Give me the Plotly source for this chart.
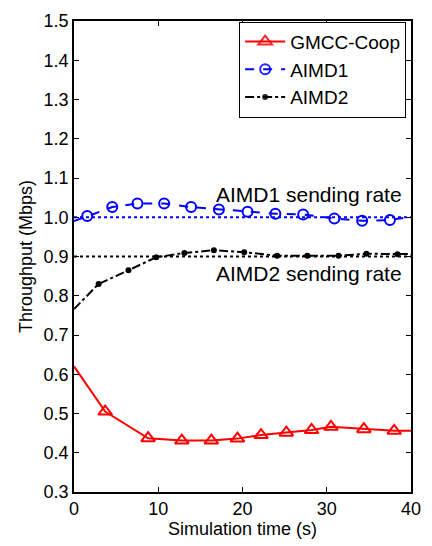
import plotly.graph_objects as go

# GMCC-Coop
gmcc_x = [0, 3.7, 8.8, 12.8, 16.3, 19.4, 22.2, 25.2, 28.2, 30.5, 34.4, 38.0, 40]
gmcc_y = [0.62, 0.505, 0.437, 0.431, 0.431, 0.436, 0.445, 0.451, 0.458, 0.466, 0.460, 0.456, 0.456]

# AIMD1
aimd1_x = [0, 1.57, 4.54, 7.53, 10.7, 13.9, 17.2, 20.6, 23.9, 27.2, 30.9, 34.2, 37.5, 40]
aimd1_y = [0.990, 1.003, 1.026, 1.035, 1.035, 1.026, 1.020, 1.014, 1.009, 1.007, 0.997, 0.991, 0.993, 1.001]

# AIMD2
aimd2_x = [0, 2.92, 6.46, 9.76, 13.1, 16.6, 20.2, 24.1, 27.7, 31.4, 34.7, 38.4, 40]
aimd2_y = [0.766, 0.83, 0.865, 0.898, 0.909, 0.916, 0.911, 0.902, 0.902, 0.902, 0.907, 0.906, 0.906]

# sending rates
rate_x = [0, 40]
aimd1_rate = [1.0, 1.0]
aimd2_rate = [0.9, 0.9]

x_ticks = [0, 10, 20, 30, 40]
y_ticks = [0.3, 0.4, 0.5, 0.6, 0.7, 0.8, 0.9, 1.0, 1.1, 1.2, 1.3, 1.4, 1.5]

FONT = "Liberation Sans, Arial, sans-serif"


def inner_only(n):
    # hide marker on first and last point (line runs to the frame edges)
    return [0] + [1] * (n - 2) + [0]


fig = go.Figure()
fig.add_trace(go.Scatter(x=rate_x, y=aimd1_rate, mode="lines", showlegend=False,
                         line=dict(color="#0000ff", width=2, dash="dot")))
fig.add_trace(go.Scatter(x=rate_x, y=aimd2_rate, mode="lines", showlegend=False,
                         line=dict(color="black", width=2, dash="dot")))
fig.add_trace(go.Scatter(x=gmcc_x, y=gmcc_y, mode="lines+markers", name="GMCC-Coop",
                         line=dict(color="#ff0000", width=2),
                         marker=dict(symbol="triangle-up-open", size=12, opacity=inner_only(len(gmcc_x)),
                                     color="#ff0000", line=dict(width=2, color="#ff0000"))))
fig.add_trace(go.Scatter(x=aimd1_x, y=aimd1_y, mode="lines+markers", name="AIMD1",
                         line=dict(color="#0000ff", width=2, dash="dash"),
                         marker=dict(symbol="circle-open", size=10, opacity=inner_only(len(aimd1_x)),
                                     color="#0000ff", line=dict(width=2, color="#0000ff"))))
fig.add_trace(go.Scatter(x=aimd2_x, y=aimd2_y, mode="lines+markers", name="AIMD2",
                         line=dict(color="black", width=2, dash="dashdot"),
                         marker=dict(symbol="circle", size=6, opacity=inner_only(len(aimd2_x)),
                                     color="black")))

fig.add_annotation(x=39.2, y=1.057, xref="x", yref="y", text="AIMD1 sending rate",
                   showarrow=False, xanchor="right", yanchor="middle",
                   font=dict(family=FONT, size=21, color="black"))
fig.add_annotation(x=39.2, y=0.856, xref="x", yref="y", text="AIMD2 sending rate",
                   showarrow=False, xanchor="right", yanchor="middle",
                   font=dict(family=FONT, size=21, color="black"))

axis_common = dict(showline=True, linecolor="black", linewidth=1.5, mirror="ticks",
                   ticks="inside", ticklen=5, tickcolor="black", tickwidth=1,
                   showgrid=False, zeroline=False,
                   tickfont=dict(family=FONT, size=18, color="black"))

fig.update_xaxes(range=[0, 40], tickvals=x_ticks, ticktext=[str(v) for v in x_ticks],
                 title=dict(text="Simulation time (s)", font=dict(family=FONT, size=18, color="black"),
                            standoff=2),
                 **axis_common)
fig.update_yaxes(range=[0.3, 1.5], tickvals=y_ticks, ticktext=[f"{v:.1f}" for v in y_ticks],
                 title=dict(text="Throughput (Mbps)", font=dict(family=FONT, size=18, color="black"),
                            standoff=6),
                 **axis_common)

fig.update_layout(
    width=432, height=546,
    margin=dict(l=74, r=11, t=15, b=54),
    paper_bgcolor="white", plot_bgcolor="white",
    font=dict(family=FONT, size=18, color="black"),
    legend=dict(x=0.9856, y=0.9985, xanchor="right", yanchor="top",
                bgcolor="white", bordercolor="black", borderwidth=1,
                font=dict(family=FONT, size=19, color="black"),
                tracegroupgap=0, itemwidth=40),
)

fig.write_html("out.html")
